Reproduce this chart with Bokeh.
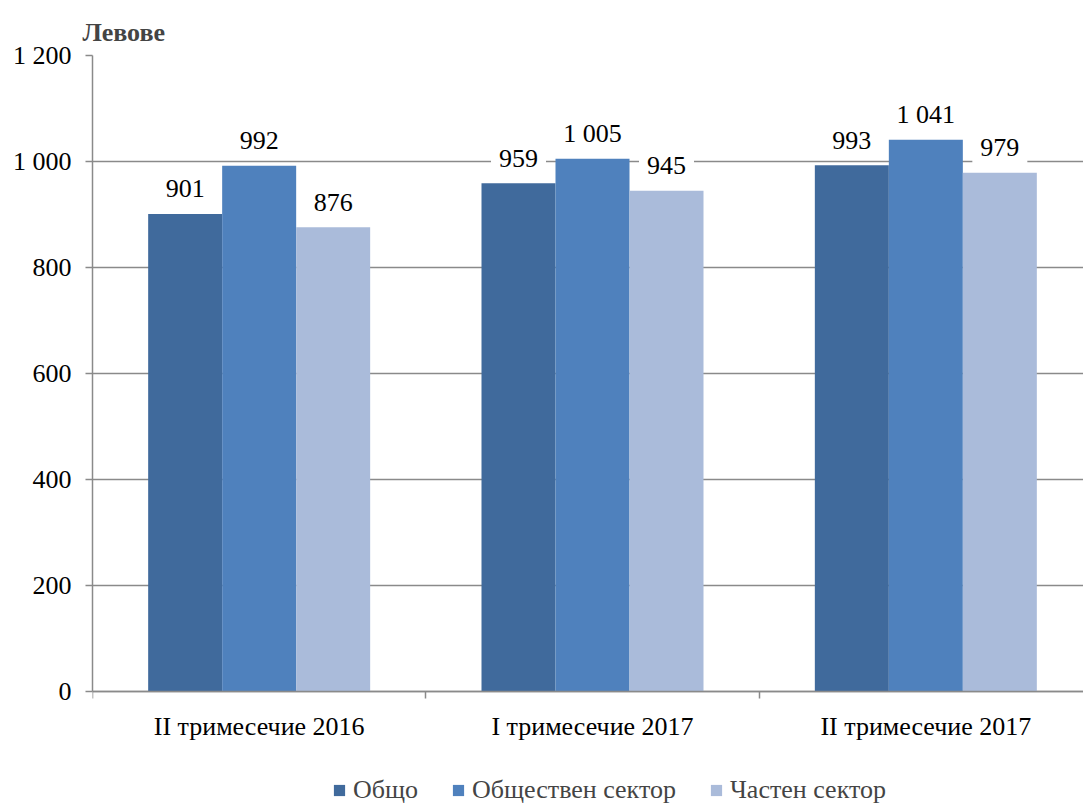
from bokeh.plotting import figure
from bokeh.models import Range1d, FixedTicker, Legend, LegendItem, ColumnDataSource
from bokeh.core.properties import value
from bokeh.embed import file_html
from bokeh.resources import INLINE

categories = ["II тримесечие 2016", "I тримесечие 2017", "II тримесечие 2017"]
series_names = ["Общо", "Обществен сектор", "Частен сектор"]
total = [901, 959, 993]
public = [992, 1005, 1041]
private = [876, 945, 979]
y_ticks = [0, 200, 400, 600, 800, 1000, 1200]
y_axis_title = "Левове"

colors = ["#406A9C", "#4F81BD", "#AABBDA"]
FONT = "Liberation Serif"
FS = "26px"
GRID = "#8a8a8a"

# layout (pixels)
PLOT_PX = 636      # height of the 0..1200 value area
BELOW_PX = 114     # room under the zero line for category labels and legend
Y_MAX = y_ticks[-1]
Y_MIN = -Y_MAX * BELOW_PX / PLOT_PX


def fmt(v):
    return f"{v:,}".replace(",", " ")


p = figure(frame_width=991, frame_height=PLOT_PX + BELOW_PX, output_backend="svg",
           toolbar_location=None,
           x_range=Range1d(0, 2.973), y_range=Range1d(Y_MIN, Y_MAX),
           min_border_left=92, min_border_right=0, min_border_top=55,
           min_border_bottom=0)
p.outline_line_color = None
p.background_fill_color = "white"

bar_w = 0.222
renderers = []
for j, (vals, name) in enumerate(zip([total, public, private], series_names)):
    xs = [i + 0.5 + (j - 1) * bar_w for i in range(len(categories))]
    src = ColumnDataSource(dict(x=xs, top=vals))
    r = p.vbar(x="x", top="top", bottom=0, width=bar_w, source=src,
               fill_color=colors[j], line_color=None)
    renderers.append((name, r))

for j, vals in enumerate([total, public, private]):
    xs = [i + 0.5 + (j - 1) * bar_w for i in range(len(categories))]
    src = ColumnDataSource(dict(x=xs, y=vals, lab=[fmt(v) for v in vals]))
    p.text(x="x", y="y", text="lab", source=src, y_offset=-25,
           text_align="center", text_baseline="middle",
           text_font=value(FONT), text_font_size=FS, text_color="black",
           background_fill_color="white", padding=8)

# y axis
p.yaxis.ticker = FixedTicker(ticks=y_ticks, minor_ticks=[])
p.yaxis.bounds = (0, Y_MAX)
p.yaxis.major_label_overrides = {t: fmt(t) for t in y_ticks}
p.yaxis.major_tick_out = 7
p.yaxis.major_tick_in = 0
p.yaxis.minor_tick_line_color = None
p.yaxis.axis_line_color = GRID
p.yaxis.axis_line_width = 1.5
p.yaxis.major_tick_line_color = GRID
p.yaxis.major_tick_line_width = 1.5
p.yaxis.major_label_standoff = 14
p.yaxis.major_label_text_font = FONT
p.yaxis.major_label_text_font_size = FS
p.yaxis.major_label_text_color = "black"

# x axis, drawn on the zero line
centers = [i + 0.5 for i in range(len(categories))]
bounds = [float(i) for i in range(len(categories) + 1)]
p.xaxis.fixed_location = 0
p.xaxis.ticker = FixedTicker(ticks=centers, minor_ticks=bounds)
p.xaxis.major_label_overrides = {c: lab for c, lab in zip(centers, categories)}
p.xaxis.major_tick_line_color = None
p.xaxis.major_tick_out = 0
p.xaxis.major_tick_in = 0
p.xaxis.minor_tick_out = 7
p.xaxis.minor_tick_in = 0
p.xaxis.minor_tick_line_color = GRID
p.xaxis.minor_tick_line_width = 1.5
p.xaxis.axis_line_color = GRID
p.xaxis.axis_line_width = 1.5
p.xaxis.major_label_standoff = 13
p.xaxis.major_label_text_font = FONT
p.xaxis.major_label_text_font_size = FS
p.xaxis.major_label_text_color = "black"

p.xgrid.grid_line_color = None
p.ygrid.grid_line_color = GRID
p.ygrid.grid_line_width = 1.5
p.ygrid.ticker = FixedTicker(ticks=y_ticks)

p.title.text = y_axis_title
p.title.text_font = FONT
p.title.text_font_size = FS
p.title.text_font_style = "bold"
p.title.align = "left"
p.title.vertical_align = "top"
p.title.offset = -10
p.title.standoff = 14

legend = Legend(items=[LegendItem(label=n, renderers=[r]) for n, r in renderers],
                orientation="horizontal", location=(240, 0),
                label_text_font=FONT, label_text_font_size=FS,
                glyph_width=14, glyph_height=14, label_standoff=7, spacing=33,
                border_line_color=None, background_fill_alpha=0,
                margin=0, padding=0)
p.add_layout(legend, "center")

open("out.html", "w").write(file_html(p, INLINE))
